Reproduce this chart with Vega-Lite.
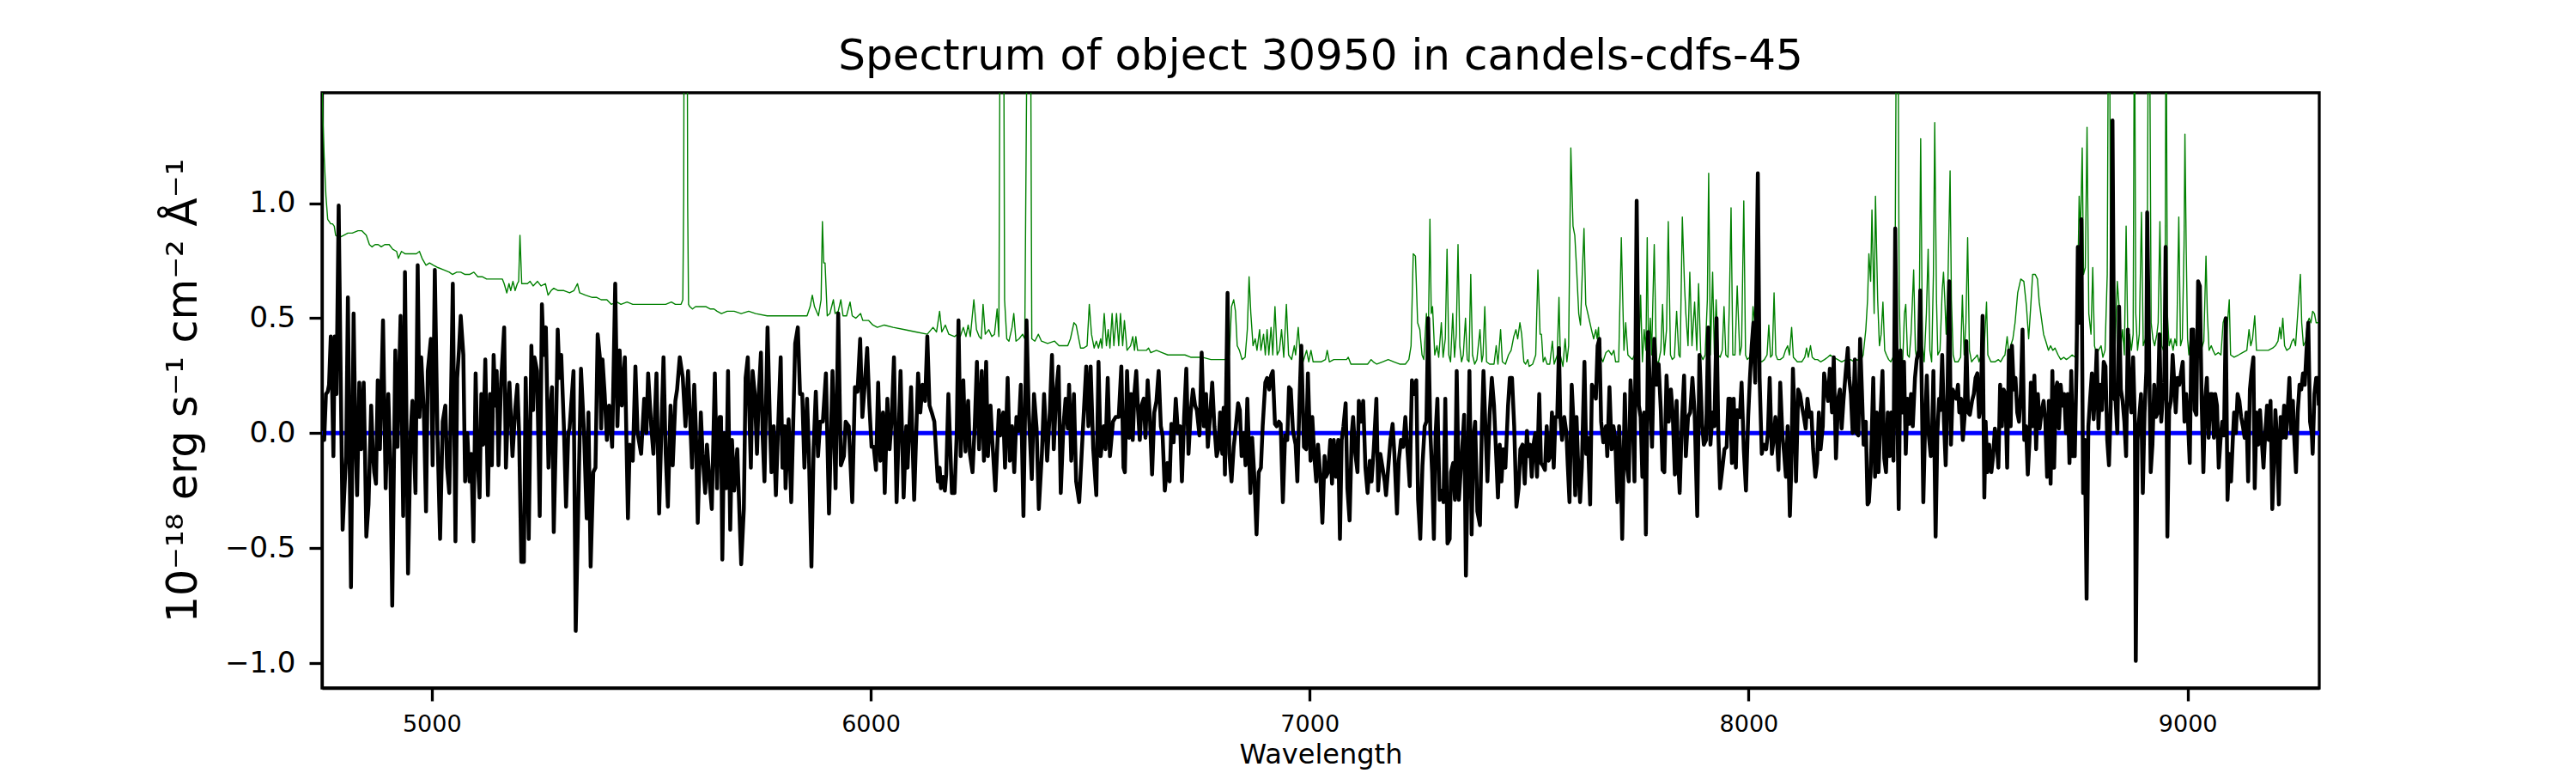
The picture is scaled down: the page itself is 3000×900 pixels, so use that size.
{
  "$schema": "https://vega.github.io/schema/vega-lite/v6.json",
  "width": 2326,
  "height": 693,
  "autosize": {"type": "none"},
  "padding": {"left": 375, "top": 108, "right": 299, "bottom": 99},
  "background": "white",
  "config": {"view": {"stroke": "black", "strokeWidth": 3.3}, "font": "DejaVu Sans"},
  "title": {"text": "Spectrum of object 30950 in candels-cdfs-45", "font": "DejaVu Sans", "fontSize": 50, "fontWeight": "normal", "color": "black", "anchor": "middle", "offset": 17},
  "datasets": {
    "zero": [{"wave": 4750, "flux": 0}, {"wave": 9300, "flux": 0}],
    "flux": [
{"wave":4750,"flux":-0.03},{"wave":4755,"flux":-0.03},{"wave":4759,"flux":0.17},{"wave":4763,"flux":0.18},{"wave":4766,"flux":0.21},{"wave":4770,"flux":0.42},{"wave":4773,"flux":0.19},{"wave":4776,"flux":-0.10},{"wave":4779,"flux":0.42},{"wave":4783,"flux":0.17},{"wave":4788,"flux":0.99},{"wave":4792,"flux":0.34},{"wave":4797,"flux":-0.42},{"wave":4802,"flux":-0.21},{"wave":4805,"flux":-0.10},{"wave":4809,"flux":0.59},{"wave":4816,"flux":-0.67},{"wave":4822,"flux":0.52},{"wave":4826,"flux":0.00},{"wave":4830,"flux":-0.27},{"wave":4835,"flux":0.22},{"wave":4839,"flux":-0.07},{"wave":4845,"flux":0.22},{"wave":4848,"flux":-0.09},{"wave":4851,"flux":-0.45},{"wave":4856,"flux":-0.31},{"wave":4862,"flux":0.12},{"wave":4866,"flux":-0.09},{"wave":4869,"flux":-0.17},{"wave":4873,"flux":-0.22},{"wave":4877,"flux":0.23},{"wave":4882,"flux":-0.07},{"wave":4889,"flux":0.49},{"wave":4895,"flux":-0.24},{"wave":4901,"flux":0.17},{"wave":4906,"flux":-0.17},{"wave":4910,"flux":-0.75},{"wave":4917,"flux":0.36},{"wave":4922,"flux":-0.06},{"wave":4925,"flux":0.19},{"wave":4929,"flux":0.51},{"wave":4935,"flux":-0.36},{"wave":4939,"flux":0.70},{"wave":4946,"flux":-0.61},{"wave":4952,"flux":0.00},{"wave":4956,"flux":0.14},{"wave":4963,"flux":-0.26},{"wave":4968,"flux":0.73},{"wave":4972,"flux":0.07},{"wave":4976,"flux":0.33},{"wave":4982,"flux":0.09},{"wave":4987,"flux":-0.34},{"wave":4991,"flux":0.27},{"wave":4998,"flux":0.41},{"wave":5002,"flux":-0.14},{"wave":5007,"flux":0.71},{"wave":5013,"flux":0.00},{"wave":5019,"flux":-0.46},{"wave":5025,"flux":0.05},{"wave":5031,"flux":0.12},{"wave":5035,"flux":-0.15},{"wave":5040,"flux":-0.26},{"wave":5043,"flux":0.05},{"wave":5048,"flux":0.65},{"wave":5054,"flux":-0.47},{"wave":5058,"flux":0.24},{"wave":5062,"flux":0.36},{"wave":5066,"flux":0.51},{"wave":5072,"flux":0.34},{"wave":5076,"flux":-0.21},{"wave":5081,"flux":0.00},{"wave":5086,"flux":-0.21},{"wave":5090,"flux":-0.09},{"wave":5095,"flux":-0.47},{"wave":5100,"flux":0.26},{"wave":5104,"flux":-0.09},{"wave":5109,"flux":-0.28},{"wave":5113,"flux":0.17},{"wave":5117,"flux":-0.05},{"wave":5122,"flux":0.32},{"wave":5128,"flux":-0.27},{"wave":5133,"flux":0.17},{"wave":5137,"flux":-0.14},{"wave":5141,"flux":0.34},{"wave":5145,"flux":0.12},{"wave":5148,"flux":0.27},{"wave":5152,"flux":-0.14},{"wave":5158,"flux":0.22},{"wave":5165,"flux":0.46},{"wave":5169,"flux":-0.15},{"wave":5173,"flux":0.07},{"wave":5177,"flux":0.22},{"wave":5184,"flux":-0.10},{"wave":5190,"flux":0.10},{"wave":5195,"flux":0.21},{"wave":5199,"flux":0.00},{"wave":5204,"flux":-0.56},{"wave":5210,"flux":-0.56},{"wave":5214,"flux":0.24},{"wave":5221,"flux":-0.46},{"wave":5227,"flux":0.38},{"wave":5231,"flux":0.10},{"wave":5234,"flux":0.33},{"wave":5240,"flux":0.27},{"wave":5246,"flux":-0.36},{"wave":5251,"flux":0.56},{"wave":5255,"flux":0.34},{"wave":5260,"flux":0.46},{"wave":5266,"flux":-0.15},{"wave":5270,"flux":0.09},{"wave":5274,"flux":0.20},{"wave":5278,"flux":-0.43},{"wave":5283,"flux":0.00},{"wave":5287,"flux":0.45},{"wave":5291,"flux":0.24},{"wave":5295,"flux":0.34},{"wave":5301,"flux":0.03},{"wave":5306,"flux":-0.32},{"wave":5311,"flux":0.00},{"wave":5314,"flux":0.02},{"wave":5323,"flux":0.27},{"wave":5328,"flux":-0.86},{"wave":5335,"flux":-0.21},{"wave":5340,"flux":0.28},{"wave":5347,"flux":0.00},{"wave":5353,"flux":-0.37},{"wave":5357,"flux":0.09},{"wave":5362,"flux":-0.58},{"wave":5368,"flux":-0.17},{"wave":5373,"flux":-0.15},{"wave":5378,"flux":0.43},{"wave":5383,"flux":0.33},{"wave":5386,"flux":0.02},{"wave":5389,"flux":0.32},{"wave":5394,"flux":0.17},{"wave":5399,"flux":-0.03},{"wave":5404,"flux":0.12},{"wave":5411,"flux":-0.06},{"wave":5418,"flux":0.65},{"wave":5423,"flux":0.03},{"wave":5428,"flux":0.36},{"wave":5433,"flux":0.12},{"wave":5440,"flux":0.33},{"wave":5447,"flux":-0.37},{"wave":5451,"flux":-0.05},{"wave":5458,"flux":-0.12},{"wave":5464,"flux":0.29},{"wave":5469,"flux":0.00},{"wave":5477,"flux":-0.09},{"wave":5484,"flux":0.15},{"wave":5489,"flux":0.00},{"wave":5493,"flux":0.26},{"wave":5500,"flux":0.03},{"wave":5505,"flux":-0.09},{"wave":5512,"flux":0.26},{"wave":5518,"flux":-0.35},{"wave":5523,"flux":0.00},{"wave":5528,"flux":0.33},{"wave":5533,"flux":-0.09},{"wave":5538,"flux":-0.32},{"wave":5544,"flux":0.12},{"wave":5549,"flux":-0.14},{"wave":5555,"flux":0.14},{"wave":5559,"flux":0.19},{"wave":5565,"flux":0.33},{"wave":5572,"flux":0.24},{"wave":5578,"flux":0.03},{"wave":5584,"flux":0.27},{"wave":5588,"flux":0.09},{"wave":5593,"flux":-0.15},{"wave":5598,"flux":0.21},{"wave":5602,"flux":0.00},{"wave":5606,"flux":-0.39},{"wave":5613,"flux":0.09},{"wave":5617,"flux":-0.09},{"wave":5623,"flux":-0.26},{"wave":5627,"flux":-0.05},{"wave":5634,"flux":-0.24},{"wave":5638,"flux":-0.33},{"wave":5645,"flux":0.26},{"wave":5650,"flux":-0.24},{"wave":5653,"flux":0.00},{"wave":5656,"flux":0.07},
{"wave":5659,"flux":0.07},{"wave":5662,"flux":-0.55},{"wave":5666,"flux":0.00},{"wave":5671,"flux":-0.24},{"wave":5675,"flux":0.27},{"wave":5680,"flux":-0.42},{"wave":5684,"flux":-0.03},{"wave":5689,"flux":-0.25},{"wave":5696,"flux":-0.07},{"wave":5705,"flux":-0.57},{"wave":5711,"flux":-0.33},{"wave":5715,"flux":0.24},{"wave":5720,"flux":0.33},{"wave":5727,"flux":-0.15},{"wave":5731,"flux":0.27},{"wave":5736,"flux":0.17},{"wave":5741,"flux":-0.09},{"wave":5745,"flux":0.17},{"wave":5750,"flux":0.35},{"wave":5754,"flux":-0.02},{"wave":5758,"flux":-0.21},{"wave":5765,"flux":0.46},{"wave":5771,"flux":0.00},{"wave":5774,"flux":-0.17},{"wave":5779,"flux":0.03},{"wave":5784,"flux":-0.27},{"wave":5789,"flux":0.02},{"wave":5795,"flux":0.33},{"wave":5799,"flux":-0.15},{"wave":5804,"flux":0.03},{"wave":5806,"flux":-0.24},{"wave":5813,"flux":0.06},{"wave":5819,"flux":-0.30},{"wave":5828,"flux":0.39},{"wave":5834,"flux":0.46},{"wave":5839,"flux":0.17},{"wave":5844,"flux":0.17},{"wave":5849,"flux":-0.15},{"wave":5855,"flux":0.15},{"wave":5859,"flux":-0.07},{"wave":5865,"flux":-0.58},{"wave":5870,"flux":-0.06},{"wave":5875,"flux":0.18},{"wave":5880,"flux":-0.10},{"wave":5885,"flux":0.05},{"wave":5891,"flux":0.05},{"wave":5898,"flux":0.26},{"wave":5905,"flux":-0.35},{"wave":5913,"flux":0.27},{"wave":5920,"flux":-0.24},{"wave":5926,"flux":0.52},{"wave":5932,"flux":-0.14},{"wave":5939,"flux":-0.10},{"wave":5943,"flux":0.05},{"wave":5950,"flux":0.03},{"wave":5958,"flux":-0.30},{"wave":5964,"flux":0.20},{"wave":5970,"flux":0.18},{"wave":5976,"flux":0.41},{"wave":5981,"flux":0.07},{"wave":5986,"flux":0.20},{"wave":5992,"flux":0.37},{"wave":5997,"flux":0.12},{"wave":6002,"flux":-0.06},{"wave":6007,"flux":-0.06},{"wave":6012,"flux":-0.16},{"wave":6017,"flux":0.22},{"wave":6022,"flux":-0.12},{"wave":6028,"flux":0.09},{"wave":6032,"flux":-0.26},{"wave":6038,"flux":0.15},{"wave":6043,"flux":-0.07},{"wave":6048,"flux":0.07},{"wave":6053,"flux":0.33},{"wave":6059,"flux":-0.30},{"wave":6068,"flux":0.27},{"wave":6075,"flux":-0.28},{"wave":6081,"flux":0.03},{"wave":6084,"flux":-0.15},{"wave":6092,"flux":0.20},{"wave":6099,"flux":-0.29},{"wave":6108,"flux":0.26},{"wave":6113,"flux":0.09},{"wave":6118,"flux":0.21},{"wave":6124,"flux":0.14},{"wave":6129,"flux":0.42},{"wave":6134,"flux":0.12},{"wave":6139,"flux":0.09},{"wave":6145,"flux":0.05},{"wave":6153,"flux":-0.21},{"wave":6157,"flux":-0.15},{"wave":6160,"flux":-0.24},{"wave":6165,"flux":-0.19},{"wave":6169,"flux":-0.25},{"wave":6172,"flux":-0.18},{"wave":6177,"flux":0.17},{"wave":6185,"flux":-0.26},{"wave":6191,"flux":-0.26},{"wave":6196,"flux":0.00},{"wave":6200,"flux":0.49},{"wave":6205,"flux":-0.10},{"wave":6211,"flux":0.23},{"wave":6216,"flux":-0.08},{"wave":6222,"flux":0.14},{"wave":6226,"flux":-0.09},{"wave":6232,"flux":-0.17},{"wave":6237,"flux":0.03},{"wave":6242,"flux":0.31},{"wave":6247,"flux":-0.07},{"wave":6253,"flux":0.27},{"wave":6258,"flux":-0.12},{"wave":6263,"flux":0.31},{"wave":6267,"flux":-0.10},{"wave":6273,"flux":0.12},{"wave":6277,"flux":-0.03},{"wave":6284,"flux":-0.25},{"wave":6292,"flux":0.10},{"wave":6295,"flux":-0.01},{"wave":6302,"flux":0.09},{"wave":6306,"flux":-0.15},{"wave":6312,"flux":0.24},{"wave":6317,"flux":-0.12},{"wave":6322,"flux":0.03},{"wave":6327,"flux":-0.17},{"wave":6332,"flux":0.07},{"wave":6337,"flux":0.01},{"wave":6342,"flux":0.21},{"wave":6348,"flux":-0.36},{"wave":6355,"flux":0.49},{"wave":6360,"flux":0.10},{"wave":6367,"flux":-0.20},{"wave":6372,"flux":0.17},{"wave":6378,"flux":0.02},{"wave":6383,"flux":-0.33},{"wave":6390,"flux":-0.09},{"wave":6395,"flux":0.17},{"wave":6402,"flux":-0.12},{"wave":6408,"flux":0.09},{"wave":6413,"flux":0.34},{"wave":6417,"flux":-0.07},{"wave":6423,"flux":0.19},{"wave":6428,"flux":0.29},{"wave":6433,"flux":-0.26},{"wave":6439,"flux":0.03},{"wave":6444,"flux":0.15},{"wave":6449,"flux":0.02},{"wave":6452,"flux":0.21},{"wave":6457,"flux":-0.12},{"wave":6463,"flux":0.17},{"wave":6468,"flux":-0.21},{"wave":6475,"flux":-0.30},{"wave":6483,"flux":0.00},{"wave":6491,"flux":0.29},{"wave":6496,"flux":0.03},{"wave":6501,"flux":0.29},{"wave":6507,"flux":-0.07},{"wave":6514,"flux":-0.27},{"wave":6519,"flux":0.31},{"wave":6524,"flux":-0.10},{"wave":6531,"flux":0.03},{"wave":6535,"flux":-0.07},{"wave":6540,"flux":0.24},{"wave":6545,"flux":-0.10},{"wave":6552,"flux":0.05},{"wave":6558,"flux":0.07},{"wave":6565,"flux":0.07},{"wave":6571,"flux":0.29},{"wave":6576,"flux":-0.15},
{"wave":6579,"flux":-0.17},{"wave":6584,"flux":0.27},{"wave":6589,"flux":-0.02},{"wave":6593,"flux":0.17},{"wave":6597,"flux":-0.03},{"wave":6601,"flux":0.18},{"wave":6605,"flux":0.27},{"wave":6609,"flux":0.10},{"wave":6613,"flux":-0.03},{"wave":6617,"flux":0.12},{"wave":6622,"flux":0.15},{"wave":6626,"flux":-0.02},{"wave":6631,"flux":0.23},{"wave":6636,"flux":0.07},{"wave":6641,"flux":-0.18},{"wave":6646,"flux":0.09},{"wave":6651,"flux":0.14},{"wave":6656,"flux":0.27},{"wave":6661,"flux":0.03},{"wave":6665,"flux":-0.01},{"wave":6670,"flux":-0.25},{"wave":6676,"flux":-0.13},{"wave":6681,"flux":-0.21},{"wave":6685,"flux":0.04},{"wave":6690,"flux":-0.04},{"wave":6695,"flux":0.15},{"wave":6700,"flux":0.00},{"wave":6705,"flux":0.03},{"wave":6709,"flux":-0.21},{"wave":6714,"flux":0.07},{"wave":6719,"flux":0.28},{"wave":6724,"flux":-0.09},{"wave":6729,"flux":0.09},{"wave":6734,"flux":0.19},{"wave":6739,"flux":0.12},{"wave":6743,"flux":0.10},{"wave":6749,"flux":-0.01},{"wave":6754,"flux":0.35},{"wave":6759,"flux":0.03},{"wave":6764,"flux":0.17},{"wave":6768,"flux":-0.06},{"wave":6773,"flux":0.07},{"wave":6778,"flux":0.22},{"wave":6783,"flux":0.03},{"wave":6788,"flux":-0.10},{"wave":6792,"flux":-0.07},{"wave":6796,"flux":0.09},{"wave":6801,"flux":-0.09},{"wave":6804,"flux":0.11},{"wave":6807,"flux":-0.18},{"wave":6813,"flux":0.61},{"wave":6817,"flux":-0.09},{"wave":6822,"flux":-0.21},{"wave":6827,"flux":-0.06},{"wave":6832,"flux":0.03},{"wave":6837,"flux":0.13},{"wave":6841,"flux":0.10},{"wave":6845,"flux":-0.10},{"wave":6850,"flux":0.00},{"wave":6854,"flux":-0.14},{"wave":6858,"flux":0.15},{"wave":6865,"flux":-0.26},{"wave":6869,"flux":-0.02},{"wave":6874,"flux":-0.19},{"wave":6879,"flux":-0.44},{"wave":6884,"flux":-0.17},{"wave":6889,"flux":-0.15},{"wave":6893,"flux":0.03},{"wave":6899,"flux":0.22},{"wave":6903,"flux":0.24},{"wave":6908,"flux":0.19},{"wave":6912,"flux":0.25},{"wave":6916,"flux":0.27},{"wave":6921,"flux":0.04},{"wave":6925,"flux":0.03},{"wave":6930,"flux":0.05},{"wave":6934,"flux":0.04},{"wave":6939,"flux":-0.30},{"wave":6944,"flux":-0.01},{"wave":6949,"flux":-0.03},{"wave":6953,"flux":0.20},{"wave":6957,"flux":0.19},{"wave":6962,"flux":0.01},{"wave":6968,"flux":-0.05},{"wave":6972,"flux":-0.21},{"wave":6977,"flux":0.15},{"wave":6981,"flux":0.38},{"wave":6987,"flux":-0.06},{"wave":6992,"flux":-0.07},{"wave":6996,"flux":0.26},{"wave":7002,"flux":-0.12},{"wave":7006,"flux":0.07},{"wave":7011,"flux":-0.11},{"wave":7015,"flux":-0.21},{"wave":7019,"flux":-0.05},{"wave":7024,"flux":-0.18},{"wave":7029,"flux":-0.39},{"wave":7034,"flux":-0.10},{"wave":7037,"flux":-0.19},{"wave":7042,"flux":-0.17},{"wave":7047,"flux":-0.03},{"wave":7051,"flux":-0.22},{"wave":7055,"flux":-0.03},{"wave":7060,"flux":-0.19},{"wave":7065,"flux":-0.03},{"wave":7069,"flux":-0.46},{"wave":7073,"flux":-0.03},{"wave":7077,"flux":0.03},{"wave":7082,"flux":0.13},{"wave":7086,"flux":-0.24},{"wave":7091,"flux":-0.38},{"wave":7096,"flux":0.00},{"wave":7099,"flux":0.07},{"wave":7104,"flux":-0.09},{"wave":7109,"flux":-0.17},{"wave":7112,"flux":0.14},{"wave":7117,"flux":0.05},{"wave":7122,"flux":0.14},{"wave":7127,"flux":-0.15},{"wave":7132,"flux":-0.26},{"wave":7137,"flux":-0.12},{"wave":7141,"flux":-0.21},{"wave":7146,"flux":-0.07},{"wave":7152,"flux":0.15},{"wave":7156,"flux":-0.25},{"wave":7161,"flux":-0.09},{"wave":7166,"flux":-0.15},{"wave":7171,"flux":-0.21},{"wave":7174,"flux":-0.27},{"wave":7179,"flux":-0.15},{"wave":7184,"flux":-0.03},{"wave":7189,"flux":0.04},{"wave":7193,"flux":-0.09},{"wave":7199,"flux":-0.35},{"wave":7203,"flux":-0.12},{"wave":7208,"flux":-0.03},{"wave":7213,"flux":-0.06},{"wave":7218,"flux":0.07},{"wave":7223,"flux":-0.08},{"wave":7228,"flux":-0.23},{"wave":7233,"flux":0.23},{"wave":7238,"flux":0.17},{"wave":7243,"flux":0.23},{"wave":7247,"flux":-0.29},{"wave":7252,"flux":-0.46},{"wave":7257,"flux":-0.14},{"wave":7262,"flux":0.03},{"wave":7266,"flux":0.05},{"wave":7270,"flux":0.50},{"wave":7275,"flux":0.00},{"wave":7279,"flux":-0.17},{"wave":7283,"flux":-0.46},{"wave":7287,"flux":0.00},{"wave":7291,"flux":0.15},{"wave":7296,"flux":-0.29},{"wave":7300,"flux":-0.25},{"wave":7305,"flux":-0.30},{"wave":7309,"flux":0.15},{"wave":7314,"flux":-0.48},{"wave":7319,"flux":-0.46},{"wave":7322,"flux":-0.17},{"wave":7327,"flux":-0.13},{"wave":7331,"flux":-0.29},{"wave":7335,"flux":0.27},{"wave":7340,"flux":-0.29},{"wave":7345,"flux":-0.14},{"wave":7349,"flux":-0.02},{"wave":7352,"flux":0.08},{"wave":7356,"flux":-0.62},{"wave":7360,"flux":-0.17},{"wave":7364,"flux":0.27},{"wave":7369,"flux":-0.44},{"wave":7373,"flux":-0.02},{"wave":7377,"flux":0.05},{"wave":7382,"flux":-0.34},{"wave":7388,"flux":-0.40},{"wave":7392,"flux":0.00},{"wave":7396,"flux":0.27},{"wave":7401,"flux":0.00},{"wave":7405,"flux":-0.21},{"wave":7410,"flux":0.08},{"wave":7415,"flux":0.24},{"wave":7420,"flux":0.12},{"wave":7425,"flux":-0.10},{"wave":7429,"flux":-0.28},{"wave":7433,"flux":-0.05},{"wave":7437,"flux":-0.21},{"wave":7441,"flux":-0.07},{"wave":7446,"flux":-0.15},{"wave":7452,"flux":0.12},{"wave":7456,"flux":0.24},{"wave":7461,"flux":0.24},{"wave":7466,"flux":0.03},{"wave":7471,"flux":-0.32},{"wave":7476,"flux":-0.24},{"wave":7480,"flux":-0.07},{"wave":7485,"flux":-0.05},{"wave":7490,"flux":-0.22},{"wave":7495,"flux":0.01},
{"wave":7498,"flux":-0.10},{"wave":7502,"flux":-0.05},{"wave":7506,"flux":-0.19},{"wave":7510,"flux":-0.05},{"wave":7514,"flux":0.00},{"wave":7518,"flux":-0.19},{"wave":7523,"flux":0.17},{"wave":7527,"flux":-0.13},{"wave":7531,"flux":-0.14},{"wave":7536,"flux":-0.16},{"wave":7540,"flux":0.03},{"wave":7544,"flux":-0.12},{"wave":7548,"flux":-0.10},{"wave":7552,"flux":0.09},{"wave":7556,"flux":-0.15},{"wave":7560,"flux":0.07},{"wave":7564,"flux":0.07},{"wave":7568,"flux":0.37},{"wave":7571,"flux":0.07},{"wave":7575,"flux":-0.03},{"wave":7580,"flux":0.07},{"wave":7585,"flux":0.00},{"wave":7588,"flux":-0.14},{"wave":7592,"flux":-0.30},{"wave":7597,"flux":0.21},{"wave":7601,"flux":0.05},{"wave":7605,"flux":-0.27},{"wave":7608,"flux":0.07},{"wave":7611,"flux":-0.10},{"wave":7616,"flux":-0.30},{"wave":7620,"flux":-0.15},{"wave":7626,"flux":0.31},{"wave":7630,"flux":-0.09},{"wave":7634,"flux":-0.02},{"wave":7639,"flux":-0.31},{"wave":7643,"flux":0.21},{"wave":7648,"flux":0.19},{"wave":7652,"flux":0.15},{"wave":7656,"flux":0.38},{"wave":7660,"flux":0.41},{"wave":7664,"flux":0.05},{"wave":7669,"flux":-0.04},{"wave":7675,"flux":0.03},{"wave":7678,"flux":-0.10},{"wave":7683,"flux":0.20},{"wave":7688,"flux":-0.07},{"wave":7692,"flux":0.03},{"wave":7696,"flux":-0.02},{"wave":7701,"flux":-0.30},{"wave":7705,"flux":0.03},{"wave":7709,"flux":-0.17},{"wave":7712,"flux":-0.46},{"wave":7718,"flux":0.17},{"wave":7722,"flux":-0.13},{"wave":7727,"flux":-0.21},{"wave":7731,"flux":0.23},{"wave":7736,"flux":0.07},{"wave":7740,"flux":-0.21},{"wave":7745,"flux":1.01},{"wave":7750,"flux":0.12},{"wave":7754,"flux":0.07},{"wave":7758,"flux":-0.19},{"wave":7762,"flux":0.09},{"wave":7766,"flux":-0.44},{"wave":7771,"flux":0.44},{"wave":7776,"flux":0.14},{"wave":7780,"flux":-0.06},{"wave":7785,"flux":0.41},{"wave":7790,"flux":0.21},{"wave":7795,"flux":0.30},{"wave":7800,"flux":0.10},{"wave":7804,"flux":-0.16},{"wave":7808,"flux":-0.17},{"wave":7813,"flux":0.25},{"wave":7818,"flux":0.05},{"wave":7823,"flux":0.19},{"wave":7827,"flux":0.09},{"wave":7832,"flux":-0.18},{"wave":7836,"flux":0.14},{"wave":7839,"flux":-0.10},{"wave":7843,"flux":-0.26},{"wave":7848,"flux":0.05},{"wave":7853,"flux":0.25},{"wave":7857,"flux":-0.10},{"wave":7862,"flux":0.07},{"wave":7867,"flux":0.09},{"wave":7872,"flux":0.24},{"wave":7877,"flux":0.09},{"wave":7883,"flux":-0.36},{"wave":7888,"flux":0.34},{"wave":7894,"flux":0.04},{"wave":7898,"flux":-0.05},{"wave":7903,"flux":-0.03},{"wave":7908,"flux":0.46},{"wave":7913,"flux":-0.05},{"wave":7918,"flux":0.09},{"wave":7922,"flux":0.03},{"wave":7927,"flux":0.50},{"wave":7931,"flux":0.00},{"wave":7935,"flux":-0.24},{"wave":7941,"flux":-0.14},{"wave":7945,"flux":-0.07},{"wave":7950,"flux":-0.06},{"wave":7954,"flux":0.15},{"wave":7958,"flux":0.15},{"wave":7962,"flux":-0.13},{"wave":7966,"flux":0.15},{"wave":7971,"flux":-0.15},{"wave":7974,"flux":0.10},{"wave":7980,"flux":0.07},{"wave":7984,"flux":0.22},{"wave":7989,"flux":-0.07},{"wave":7994,"flux":-0.25},{"wave":7999,"flux":0.07},{"wave":8003,"flux":0.24},{"wave":8007,"flux":0.38},{"wave":8011,"flux":0.48},{"wave":8015,"flux":0.22},{"wave":8021,"flux":1.13},{"wave":8025,"flux":0.24},{"wave":8030,"flux":-0.09},{"wave":8034,"flux":-0.05},{"wave":8040,"flux":-0.07},{"wave":8044,"flux":0.00},{"wave":8048,"flux":0.24},{"wave":8053,"flux":-0.09},{"wave":8057,"flux":-0.03},{"wave":8061,"flux":0.07},{"wave":8064,"flux":0.00},{"wave":8068,"flux":-0.16},{"wave":8072,"flux":0.22},{"wave":8077,"flux":-0.01},{"wave":8081,"flux":-0.09},{"wave":8085,"flux":-0.19},{"wave":8089,"flux":0.03},{"wave":8094,"flux":-0.36},{"wave":8097,"flux":-0.17},{"wave":8101,"flux":0.28},{"wave":8105,"flux":0.05},{"wave":8108,"flux":-0.21},{"wave":8113,"flux":0.19},{"wave":8117,"flux":0.17},{"wave":8121,"flux":0.12},{"wave":8126,"flux":0.07},{"wave":8130,"flux":0.02},{"wave":8134,"flux":0.15},{"wave":8139,"flux":0.07},{"wave":8143,"flux":0.09},{"wave":8147,"flux":-0.07},{"wave":8152,"flux":-0.19},{"wave":8156,"flux":-0.13},{"wave":8160,"flux":0.09},{"wave":8164,"flux":-0.07},{"wave":8169,"flux":0.03},{"wave":8172,"flux":0.26},{"wave":8177,"flux":0.19},{"wave":8181,"flux":0.14},{"wave":8185,"flux":0.28},{"wave":8190,"flux":0.09},{"wave":8194,"flux":0.33},{"wave":8199,"flux":-0.11},{"wave":8204,"flux":0.15},{"wave":8208,"flux":0.19},{"wave":8212,"flux":0.02},{"wave":8216,"flux":0.14},{"wave":8221,"flux":0.26},{"wave":8226,"flux":0.37},{"wave":8229,"flux":0.24},{"wave":8233,"flux":0.17},{"wave":8237,"flux":0.00},{"wave":8242,"flux":0.32},{"wave":8246,"flux":0.00},{"wave":8250,"flux":-0.01},{"wave":8254,"flux":0.41},{"wave":8258,"flux":0.19},{"wave":8262,"flux":-0.05},{"wave":8267,"flux":0.05},{"wave":8271,"flux":-0.31},{"wave":8274,"flux":-0.30},{"wave":8278,"flux":-0.17},{"wave":8284,"flux":0.24},{"wave":8288,"flux":-0.19},{"wave":8292,"flux":0.09},{"wave":8296,"flux":-0.17},{"wave":8301,"flux":0.10},{"wave":8305,"flux":0.27},{"wave":8309,"flux":-0.11},{"wave":8313,"flux":-0.17},{"wave":8317,"flux":0.09},{"wave":8321,"flux":-0.10},{"wave":8325,"flux":0.09},{"wave":8330,"flux":-0.12},{"wave":8334,"flux":0.89},{"wave":8338,"flux":0.21},{"wave":8342,"flux":-0.33},{"wave":8346,"flux":0.36},{"wave":8350,"flux":0.09},{"wave":8354,"flux":0.31},{"wave":8358,"flux":-0.09},{"wave":8362,"flux":0.15},{"wave":8366,"flux":0.04},{"wave":8370,"flux":0.17},{"wave":8374,"flux":0.03},{"wave":8379,"flux":0.24},{"wave":8383,"flux":0.32},{"wave":8388,"flux":0.36},{"wave":8391,"flux":0.62},{"wave":8395,"flux":0.12},{"wave":8398,"flux":-0.30},{"wave":8402,"flux":0.03},{"wave":8406,"flux":0.25},{"wave":8410,"flux":0.00},{"wave":8415,"flux":-0.10},
{"wave":8418,"flux":0.00},{"wave":8421,"flux":0.27},{"wave":8426,"flux":-0.45},{"wave":8430,"flux":0.00},{"wave":8434,"flux":0.15},{"wave":8437,"flux":0.10},{"wave":8441,"flux":0.34},{"wave":8445,"flux":0.05},{"wave":8449,"flux":-0.14},{"wave":8453,"flux":0.17},{"wave":8457,"flux":0.66},{"wave":8461,"flux":-0.05},{"wave":8465,"flux":0.19},{"wave":8469,"flux":0.17},{"wave":8473,"flux":0.15},{"wave":8477,"flux":0.21},{"wave":8480,"flux":0.09},{"wave":8484,"flux":0.15},{"wave":8488,"flux":-0.03},{"wave":8492,"flux":0.07},{"wave":8496,"flux":0.40},{"wave":8500,"flux":0.09},{"wave":8504,"flux":0.08},{"wave":8509,"flux":0.14},{"wave":8513,"flux":0.17},{"wave":8517,"flux":0.24},{"wave":8521,"flux":0.26},{"wave":8525,"flux":0.07},{"wave":8529,"flux":0.12},{"wave":8533,"flux":0.51},{"wave":8537,"flux":-0.28},{"wave":8540,"flux":0.05},{"wave":8544,"flux":-0.17},{"wave":8548,"flux":-0.05},{"wave":8553,"flux":-0.17},{"wave":8557,"flux":-0.10},{"wave":8561,"flux":0.02},{"wave":8565,"flux":-0.03},{"wave":8569,"flux":-0.15},{"wave":8573,"flux":0.21},{"wave":8577,"flux":0.03},{"wave":8581,"flux":0.19},{"wave":8585,"flux":0.17},{"wave":8589,"flux":-0.15},{"wave":8593,"flux":0.36},{"wave":8597,"flux":0.03},{"wave":8600,"flux":0.38},{"wave":8604,"flux":0.19},{"wave":8608,"flux":0.24},{"wave":8612,"flux":0.09},{"wave":8616,"flux":0.05},{"wave":8620,"flux":0.17},{"wave":8624,"flux":0.45},{"wave":8628,"flux":-0.03},{"wave":8632,"flux":0.03},{"wave":8636,"flux":-0.18},{"wave":8640,"flux":-0.03},{"wave":8643,"flux":0.22},{"wave":8647,"flux":0.03},{"wave":8651,"flux":0.25},{"wave":8655,"flux":-0.07},{"wave":8659,"flux":0.17},{"wave":8663,"flux":0.02},{"wave":8667,"flux":0.09},{"wave":8672,"flux":0.14},{"wave":8676,"flux":0.05},{"wave":8680,"flux":-0.19},{"wave":8684,"flux":0.14},{"wave":8688,"flux":-0.22},{"wave":8692,"flux":0.27},{"wave":8696,"flux":-0.15},{"wave":8700,"flux":0.19},{"wave":8703,"flux":0.22},{"wave":8707,"flux":0.02},{"wave":8711,"flux":0.21},{"wave":8715,"flux":0.12},{"wave":8719,"flux":0.17},{"wave":8723,"flux":0.00},{"wave":8727,"flux":0.17},{"wave":8731,"flux":-0.13},{"wave":8735,"flux":0.27},{"wave":8739,"flux":-0.10},{"wave":8743,"flux":-0.10},{"wave":8747,"flux":0.29},{"wave":8750,"flux":0.81},{"wave":8754,"flux":0.48},{"wave":8758,"flux":0.93},{"wave":8762,"flux":-0.26},{"wave":8766,"flux":-0.03},{"wave":8770,"flux":-0.72},{"wave":8774,"flux":0.03},{"wave":8778,"flux":0.15},{"wave":8782,"flux":0.26},{"wave":8786,"flux":0.06},{"wave":8790,"flux":0.21},{"wave":8793,"flux":0.36},{"wave":8797,"flux":0.02},{"wave":8801,"flux":0.21},{"wave":8805,"flux":0.10},{"wave":8809,"flux":0.31},{"wave":8813,"flux":0.29},{"wave":8817,"flux":-0.03},{"wave":8821,"flux":-0.14},{"wave":8825,"flux":0.12},{"wave":8829,"flux":1.36},{"wave":8833,"flux":0.15},{"wave":8836,"flux":0.14},{"wave":8840,"flux":0.00},{"wave":8844,"flux":0.55},{"wave":8848,"flux":0.19},{"wave":8852,"flux":0.14},{"wave":8856,"flux":0.05},{"wave":8860,"flux":-0.10},{"wave":8864,"flux":0.45},{"wave":8868,"flux":0.17},{"wave":8872,"flux":0.09},{"wave":8876,"flux":0.33},{"wave":8880,"flux":0.05},{"wave":8882,"flux":-0.99},{"wave":8886,"flux":-0.03},{"wave":8890,"flux":0.07},{"wave":8894,"flux":0.17},{"wave":8898,"flux":-0.26},{"wave":8902,"flux":0.09},{"wave":8906,"flux":0.27},{"wave":8908,"flux":0.96},{"wave":8912,"flux":0.41},{"wave":8916,"flux":-0.17},{"wave":8920,"flux":-0.05},{"wave":8924,"flux":0.21},{"wave":8928,"flux":0.07},{"wave":8932,"flux":0.09},{"wave":8936,"flux":0.43},{"wave":8940,"flux":0.05},{"wave":8943,"flux":0.14},{"wave":8947,"flux":0.22},{"wave":8950,"flux":0.81},{"wave":8954,"flux":-0.45},{"wave":8958,"flux":0.10},{"wave":8962,"flux":0.14},{"wave":8966,"flux":0.34},{"wave":8970,"flux":0.21},{"wave":8973,"flux":0.09},{"wave":8977,"flux":0.24},{"wave":8981,"flux":0.21},{"wave":8985,"flux":0.26},{"wave":8989,"flux":0.31},{"wave":8993,"flux":0.05},{"wave":8997,"flux":0.17},{"wave":9001,"flux":0.05},{"wave":9005,"flux":-0.13},{"wave":9009,"flux":0.45},{"wave":9013,"flux":0.45},{"wave":9016,"flux":0.10},{"wave":9020,"flux":0.08},{"wave":9024,"flux":0.66},{"wave":9028,"flux":0.64},{"wave":9032,"flux":0.15},{"wave":9036,"flux":-0.17},{"wave":9040,"flux":0.14},{"wave":9044,"flux":0.24},{"wave":9048,"flux":-0.02},{"wave":9052,"flux":0.17},{"wave":9056,"flux":0.17},{"wave":9060,"flux":-0.02},{"wave":9063,"flux":0.17},{"wave":9067,"flux":0.12},{"wave":9071,"flux":-0.15},{"wave":9075,"flux":-0.03},{"wave":9079,"flux":0.05},{"wave":9083,"flux":-0.01},{"wave":9087,"flux":0.50},{"wave":9091,"flux":-0.29},{"wave":9095,"flux":-0.09},{"wave":9099,"flux":-0.21},{"wave":9103,"flux":-0.03},{"wave":9106,"flux":0.09},{"wave":9110,"flux":0.00},{"wave":9114,"flux":0.17},{"wave":9118,"flux":0.14},{"wave":9122,"flux":0.07},{"wave":9126,"flux":0.03},{"wave":9130,"flux":-0.02},{"wave":9134,"flux":0.09},{"wave":9138,"flux":-0.21},{"wave":9142,"flux":0.19},{"wave":9146,"flux":0.27},{"wave":9150,"flux":0.33},{"wave":9153,"flux":-0.24},{"wave":9157,"flux":0.09},{"wave":9161,"flux":-0.05},{"wave":9165,"flux":0.10},{"wave":9169,"flux":-0.03},{"wave":9173,"flux":-0.15},{"wave":9177,"flux":0.00},{"wave":9181,"flux":0.12},{"wave":9185,"flux":-0.03},{"wave":9189,"flux":0.14},{"wave":9193,"flux":-0.33},{"wave":9196,"flux":-0.17},{"wave":9200,"flux":0.10},{"wave":9204,"flux":-0.03},{"wave":9208,"flux":-0.31},{"wave":9212,"flux":0.07},{"wave":9216,"flux":-0.02},{"wave":9220,"flux":0.12},{"wave":9224,"flux":-0.02},{"wave":9228,"flux":0.10},{"wave":9232,"flux":0.24},{"wave":9236,"flux":0.00},{"wave":9240,"flux":0.14},{"wave":9243,"flux":-0.02},{"wave":9247,"flux":-0.17},{"wave":9251,"flux":0.09},{"wave":9255,"flux":0.21},{"wave":9259,"flux":0.19},{"wave":9263,"flux":0.26},{"wave":9267,"flux":0.21},{"wave":9271,"flux":0.36},{"wave":9275,"flux":0.48},{"wave":9279,"flux":0.05},{"wave":9283,"flux":0.00},{"wave":9285,"flux":-0.09},{"wave":9289,"flux":0.17},{"wave":9293,"flux":0.24},{"wave":9297,"flux":0.24},{"wave":9299,"flux":0.12}
    ],
    "model": [
{"wave":4749,"flux":1.60},{"wave":4752,"flux":1.37},{"wave":4755,"flux":1.20},{"wave":4759,"flux":1.03},{"wave":4763,"flux":0.93},{"wave":4770,"flux":0.91},{"wave":4774,"flux":0.91},{"wave":4778,"flux":0.90},{"wave":4781,"flux":0.86},{"wave":4789,"flux":0.85},{"wave":4799,"flux":0.86},{"wave":4809,"flux":0.87},{"wave":4819,"flux":0.87},{"wave":4832,"flux":0.88},{"wave":4841,"flux":0.88},{"wave":4851,"flux":0.86},{"wave":4858,"flux":0.82},{"wave":4864,"flux":0.81},{"wave":4871,"flux":0.82},{"wave":4878,"flux":0.82},{"wave":4885,"flux":0.81},{"wave":4893,"flux":0.82},{"wave":4903,"flux":0.82},{"wave":4911,"flux":0.80},{"wave":4920,"flux":0.79},{"wave":4924,"flux":0.76},{"wave":4931,"flux":0.79},{"wave":4939,"flux":0.78},{"wave":4949,"flux":0.78},{"wave":4955,"flux":0.78},{"wave":4965,"flux":0.78},{"wave":4972,"flux":0.79},{"wave":4978,"flux":0.76},{"wave":4987,"flux":0.73},{"wave":4995,"flux":0.74},{"wave":5004,"flux":0.73},{"wave":5014,"flux":0.72},{"wave":5027,"flux":0.71},{"wave":5040,"flux":0.70},{"wave":5047,"flux":0.69},{"wave":5057,"flux":0.70},{"wave":5066,"flux":0.70},{"wave":5076,"flux":0.69},{"wave":5086,"flux":0.69},{"wave":5096,"flux":0.70},{"wave":5105,"flux":0.68},{"wave":5115,"flux":0.68},{"wave":5125,"flux":0.67},{"wave":5138,"flux":0.67},{"wave":5151,"flux":0.67},{"wave":5161,"flux":0.67},{"wave":5165,"flux":0.65},{"wave":5171,"flux":0.61},{"wave":5176,"flux":0.65},{"wave":5180,"flux":0.62},{"wave":5185,"flux":0.66},{"wave":5190,"flux":0.62},{"wave":5195,"flux":0.65},{"wave":5198,"flux":0.66},{"wave":5201,"flux":0.86},{"wave":5205,"flux":0.65},{"wave":5211,"flux":0.65},{"wave":5218,"flux":0.65},{"wave":5224,"flux":0.66},{"wave":5231,"flux":0.64},{"wave":5241,"flux":0.66},{"wave":5249,"flux":0.64},{"wave":5259,"flux":0.65},{"wave":5265,"flux":0.60},{"wave":5272,"flux":0.62},{"wave":5278,"flux":0.63},{"wave":5288,"flux":0.62},{"wave":5301,"flux":0.62},{"wave":5314,"flux":0.61},{"wave":5324,"flux":0.62},{"wave":5332,"flux":0.65},{"wave":5337,"flux":0.61},{"wave":5350,"flux":0.60},{"wave":5366,"flux":0.59},{"wave":5376,"flux":0.59},{"wave":5386,"flux":0.58},{"wave":5399,"flux":0.58},{"wave":5409,"flux":0.56},{"wave":5422,"flux":0.57},{"wave":5431,"flux":0.56},{"wave":5445,"flux":0.57},{"wave":5458,"flux":0.56},{"wave":5477,"flux":0.56},{"wave":5497,"flux":0.56},{"wave":5516,"flux":0.56},{"wave":5533,"flux":0.56},{"wave":5546,"flux":0.57},{"wave":5555,"flux":0.56},{"wave":5568,"flux":0.56},{"wave":5572,"flux":0.58},{"wave":5574,"flux":1.03},{"wave":5576,"flux":2.80},{"wave":5581,"flux":2.80},{"wave":5583,"flux":1.00},{"wave":5585,"flux":0.56},{"wave":5588,"flux":0.55},{"wave":5594,"flux":0.54},{"wave":5601,"flux":0.55},{"wave":5608,"flux":0.55},{"wave":5617,"flux":0.55},{"wave":5625,"flux":0.55},{"wave":5634,"flux":0.54},{"wave":5643,"flux":0.54},{"wave":5650,"flux":0.53},{"wave":5660,"flux":0.52},
{"wave":5673,"flux":0.53},{"wave":5689,"flux":0.53},{"wave":5705,"flux":0.52},{"wave":5722,"flux":0.53},{"wave":5738,"flux":0.52},{"wave":5764,"flux":0.51},{"wave":5784,"flux":0.51},{"wave":5790,"flux":0.51},{"wave":5823,"flux":0.51},{"wave":5855,"flux":0.51},{"wave":5862,"flux":0.55},{"wave":5867,"flux":0.60},{"wave":5872,"flux":0.55},{"wave":5881,"flux":0.51},{"wave":5887,"flux":0.58},{"wave":5890,"flux":0.92},{"wave":5893,"flux":0.74},{"wave":5896,"flux":0.74},{"wave":5901,"flux":0.51},{"wave":5907,"flux":0.52},{"wave":5915,"flux":0.58},{"wave":5919,"flux":0.52},{"wave":5926,"flux":0.53},{"wave":5932,"flux":0.58},{"wave":5937,"flux":0.51},{"wave":5945,"flux":0.51},{"wave":5953,"flux":0.57},{"wave":5958,"flux":0.51},{"wave":5966,"flux":0.50},{"wave":5977,"flux":0.52},{"wave":5982,"flux":0.49},{"wave":5995,"flux":0.49},{"wave":6005,"flux":0.47},{"wave":6015,"flux":0.46},{"wave":6031,"flux":0.47},{"wave":6051,"flux":0.46},{"wave":6077,"flux":0.45},{"wave":6103,"flux":0.44},{"wave":6129,"flux":0.43},{"wave":6142,"flux":0.46},{"wave":6150,"flux":0.44},{"wave":6157,"flux":0.53},{"wave":6162,"flux":0.44},{"wave":6170,"flux":0.47},{"wave":6178,"flux":0.43},{"wave":6191,"flux":0.42},{"wave":6198,"flux":0.43},{"wave":6204,"flux":0.42},{"wave":6211,"flux":0.46},{"wave":6217,"flux":0.42},{"wave":6222,"flux":0.47},{"wave":6227,"flux":0.42},{"wave":6235,"flux":0.58},{"wave":6241,"flux":0.45},{"wave":6247,"flux":0.42},{"wave":6252,"flux":0.41},{"wave":6256,"flux":0.56},{"wave":6261,"flux":0.43},{"wave":6269,"flux":0.45},{"wave":6276,"flux":0.42},{"wave":6282,"flux":0.43},{"wave":6288,"flux":0.54},{"wave":6292,"flux":0.42},{"wave":6296,"flux":2.50},{"wave":6302,"flux":2.50},{"wave":6305,"flux":0.58},{"wave":6310,"flux":0.41},{"wave":6315,"flux":0.40},{"wave":6322,"flux":0.46},{"wave":6326,"flux":0.52},{"wave":6331,"flux":0.40},{"wave":6338,"flux":0.41},{"wave":6346,"flux":0.43},{"wave":6351,"flux":0.41},{"wave":6359,"flux":2.50},{"wave":6363,"flux":2.50},{"wave":6367,"flux":0.41},{"wave":6374,"flux":0.40},{"wave":6382,"flux":0.43},{"wave":6389,"flux":0.40},{"wave":6403,"flux":0.39},{"wave":6419,"flux":0.40},{"wave":6429,"flux":0.38},{"wave":6449,"flux":0.38},{"wave":6455,"flux":0.41},{"wave":6463,"flux":0.48},{"wave":6468,"flux":0.47},{"wave":6478,"flux":0.37},{"wave":6485,"flux":0.37},{"wave":6493,"flux":0.38},{"wave":6498,"flux":0.56},{"wave":6503,"flux":0.43},{"wave":6509,"flux":0.37},{"wave":6514,"flux":0.40},{"wave":6519,"flux":0.37},{"wave":6524,"flux":0.41},{"wave":6527,"flux":0.37},{"wave":6532,"flux":0.52},{"wave":6537,"flux":0.38},{"wave":6541,"flux":0.45},{"wave":6545,"flux":0.37},{"wave":6550,"flux":0.52},{"wave":6554,"flux":0.38},{"wave":6560,"flux":0.52},{"wave":6565,"flux":0.38},{"wave":6569,"flux":0.52},{"wave":6574,"flux":0.38},{"wave":6578,"flux":0.49},
{"wave":6584,"flux":0.36},{"wave":6592,"flux":0.38},{"wave":6597,"flux":0.42},{"wave":6601,"flux":0.36},{"wave":6604,"flux":0.42},{"wave":6608,"flux":0.36},{"wave":6618,"flux":0.36},{"wave":6628,"flux":0.36},{"wave":6633,"flux":0.37},{"wave":6638,"flux":0.35},{"wave":6651,"flux":0.36},{"wave":6664,"flux":0.35},{"wave":6677,"flux":0.34},{"wave":6690,"flux":0.34},{"wave":6703,"flux":0.34},{"wave":6716,"flux":0.34},{"wave":6729,"flux":0.33},{"wave":6742,"flux":0.33},{"wave":6755,"flux":0.33},{"wave":6775,"flux":0.32},{"wave":6794,"flux":0.32},{"wave":6807,"flux":0.32},{"wave":6817,"flux":0.34},{"wave":6822,"flux":0.55},{"wave":6827,"flux":0.58},{"wave":6831,"flux":0.53},{"wave":6835,"flux":0.38},{"wave":6840,"flux":0.36},{"wave":6846,"flux":0.32},{"wave":6853,"flux":0.33},{"wave":6858,"flux":0.45},{"wave":6862,"flux":0.68},{"wave":6866,"flux":0.52},{"wave":6871,"flux":0.38},{"wave":6876,"flux":0.41},{"wave":6880,"flux":0.36},{"wave":6886,"flux":0.45},{"wave":6889,"flux":0.36},{"wave":6895,"flux":0.43},{"wave":6899,"flux":0.34},{"wave":6903,"flux":0.45},{"wave":6907,"flux":0.34},{"wave":6912,"flux":0.46},{"wave":6916,"flux":0.34},{"wave":6921,"flux":0.55},{"wave":6926,"flux":0.34},{"wave":6931,"flux":0.36},{"wave":6936,"flux":0.45},{"wave":6941,"flux":0.33},{"wave":6947,"flux":0.56},{"wave":6952,"flux":0.34},{"wave":6959,"flux":0.32},{"wave":6965,"flux":0.38},{"wave":6968,"flux":0.34},{"wave":6974,"flux":0.46},{"wave":6979,"flux":0.32},{"wave":6985,"flux":0.31},{"wave":6993,"flux":0.36},{"wave":6998,"flux":0.31},{"wave":7003,"flux":0.36},{"wave":7008,"flux":0.31},{"wave":7016,"flux":0.31},{"wave":7026,"flux":0.31},{"wave":7036,"flux":0.32},{"wave":7040,"flux":0.36},{"wave":7045,"flux":0.31},{"wave":7055,"flux":0.32},{"wave":7065,"flux":0.32},{"wave":7075,"flux":0.32},{"wave":7084,"flux":0.32},{"wave":7088,"flux":0.33},{"wave":7094,"flux":0.30},{"wave":7107,"flux":0.30},{"wave":7120,"flux":0.30},{"wave":7132,"flux":0.30},{"wave":7140,"flux":0.32},{"wave":7145,"flux":0.31},{"wave":7153,"flux":0.30},{"wave":7166,"flux":0.31},{"wave":7179,"flux":0.32},{"wave":7192,"flux":0.31},{"wave":7205,"flux":0.30},{"wave":7218,"flux":0.30},{"wave":7226,"flux":0.32},{"wave":7231,"flux":0.38},{"wave":7236,"flux":0.78},{"wave":7241,"flux":0.77},{"wave":7246,"flux":0.48},{"wave":7251,"flux":0.45},{"wave":7256,"flux":0.34},{"wave":7260,"flux":0.32},{"wave":7266,"flux":0.52},{"wave":7270,"flux":0.38},{"wave":7274,"flux":0.93},{"wave":7277,"flux":0.52},{"wave":7280,"flux":0.55},{"wave":7285,"flux":0.34},{"wave":7290,"flux":0.38},{"wave":7294,"flux":0.33},{"wave":7300,"flux":0.48},{"wave":7304,"flux":0.33},{"wave":7309,"flux":0.41},{"wave":7313,"flux":0.80},{"wave":7317,"flux":0.34},{"wave":7321,"flux":0.31},{"wave":7326,"flux":0.52},{"wave":7330,"flux":0.33},{"wave":7334,"flux":0.43},{"wave":7338,"flux":0.82},{"wave":7342,"flux":0.38},{"wave":7346,"flux":0.31},{"wave":7350,"flux":0.34},{"wave":7355,"flux":0.50},{"wave":7359,"flux":0.32},{"wave":7363,"flux":0.31},{"wave":7367,"flux":0.69},{"wave":7371,"flux":0.34},{"wave":7376,"flux":0.30},{"wave":7381,"flux":0.32},{"wave":7388,"flux":0.45},{"wave":7392,"flux":0.31},{"wave":7395,"flux":0.34},{"wave":7399,"flux":0.55},{"wave":7403,"flux":0.31},{"wave":7410,"flux":0.30},{"wave":7420,"flux":0.30},{"wave":7425,"flux":0.38},{"wave":7429,"flux":0.30},{"wave":7435,"flux":0.45},{"wave":7439,"flux":0.31},{"wave":7446,"flux":0.30},{"wave":7453,"flux":0.34},{"wave":7459,"flux":0.36},{"wave":7465,"flux":0.42},{"wave":7470,"flux":0.45},{"wave":7474,"flux":0.41},{"wave":7479,"flux":0.48},{"wave":7483,"flux":0.43},{"wave":7488,"flux":0.31},{"wave":7492,"flux":0.30},{"wave":7497,"flux":0.32},
{"wave":7500,"flux":0.29},{"wave":7508,"flux":0.30},{"wave":7515,"flux":0.34},{"wave":7520,"flux":0.71},{"wave":7525,"flux":0.43},{"wave":7528,"flux":0.43},{"wave":7532,"flux":0.31},{"wave":7536,"flux":0.33},{"wave":7541,"flux":0.30},{"wave":7547,"flux":0.30},{"wave":7553,"flux":0.40},{"wave":7557,"flux":0.30},{"wave":7564,"flux":0.34},{"wave":7568,"flux":0.59},{"wave":7571,"flux":0.34},{"wave":7577,"flux":0.29},{"wave":7582,"flux":0.41},{"wave":7586,"flux":0.31},{"wave":7590,"flux":0.38},{"wave":7595,"flux":1.24},{"wave":7600,"flux":0.90},{"wave":7604,"flux":0.86},{"wave":7608,"flux":0.72},{"wave":7613,"flux":0.52},{"wave":7617,"flux":0.47},{"wave":7621,"flux":0.69},{"wave":7625,"flux":0.89},{"wave":7629,"flux":0.56},{"wave":7635,"flux":0.51},{"wave":7642,"flux":0.45},{"wave":7647,"flux":0.41},{"wave":7652,"flux":0.45},{"wave":7655,"flux":0.41},{"wave":7658,"flux":0.46},{"wave":7661,"flux":0.34},{"wave":7668,"flux":0.31},{"wave":7675,"flux":0.35},{"wave":7681,"flux":0.36},{"wave":7688,"flux":0.34},{"wave":7693,"flux":0.36},{"wave":7697,"flux":0.31},{"wave":7704,"flux":0.31},{"wave":7710,"flux":0.85},{"wave":7716,"flux":0.36},{"wave":7720,"flux":0.48},{"wave":7725,"flux":0.34},{"wave":7730,"flux":0.33},{"wave":7735,"flux":0.32},{"wave":7740,"flux":0.34},{"wave":7745,"flux":0.33},{"wave":7750,"flux":0.34},{"wave":7754,"flux":0.60},{"wave":7758,"flux":0.31},{"wave":7762,"flux":0.45},{"wave":7766,"flux":0.36},{"wave":7769,"flux":0.85},{"wave":7772,"flux":0.34},{"wave":7776,"flux":0.50},{"wave":7779,"flux":0.34},{"wave":7785,"flux":0.82},{"wave":7790,"flux":0.31},{"wave":7795,"flux":0.31},{"wave":7800,"flux":0.36},{"wave":7804,"flux":0.56},{"wave":7808,"flux":0.34},{"wave":7813,"flux":0.45},{"wave":7817,"flux":0.92},{"wave":7822,"flux":0.34},{"wave":7826,"flux":0.32},{"wave":7831,"flux":0.33},{"wave":7836,"flux":0.53},{"wave":7841,"flux":0.34},{"wave":7844,"flux":0.33},{"wave":7849,"flux":0.94},{"wave":7854,"flux":0.64},{"wave":7857,"flux":0.52},{"wave":7862,"flux":0.38},{"wave":7866,"flux":0.70},{"wave":7871,"flux":0.38},{"wave":7877,"flux":0.57},{"wave":7882,"flux":0.36},{"wave":7886,"flux":0.65},{"wave":7891,"flux":0.34},{"wave":7896,"flux":0.32},{"wave":7901,"flux":0.34},{"wave":7906,"flux":0.58},{"wave":7909,"flux":1.13},{"wave":7913,"flux":0.34},{"wave":7918,"flux":0.70},{"wave":7922,"flux":0.34},{"wave":7926,"flux":0.58},{"wave":7931,"flux":0.34},{"wave":7935,"flux":0.33},{"wave":7940,"flux":0.36},{"wave":7944,"flux":0.55},{"wave":7948,"flux":0.34},{"wave":7953,"flux":0.33},{"wave":7956,"flux":0.55},{"wave":7960,"flux":0.98},{"wave":7964,"flux":0.34},{"wave":7969,"flux":0.34},{"wave":7974,"flux":0.64},{"wave":7980,"flux":0.34},{"wave":7984,"flux":0.38},{"wave":7989,"flux":1.01},{"wave":7993,"flux":0.34},{"wave":7997,"flux":0.32},{"wave":8002,"flux":0.33},{"wave":8006,"flux":0.36},{"wave":8010,"flux":0.55},{"wave":8014,"flux":0.48},{"wave":8017,"flux":0.34},{"wave":8023,"flux":0.32},{"wave":8030,"flux":0.31},{"wave":8036,"flux":0.32},{"wave":8042,"flux":0.34},{"wave":8046,"flux":0.47},{"wave":8050,"flux":0.33},{"wave":8054,"flux":0.34},{"wave":8058,"flux":0.61},{"wave":8062,"flux":0.34},{"wave":8066,"flux":0.32},{"wave":8072,"flux":0.32},{"wave":8079,"flux":0.33},{"wave":8084,"flux":0.36},{"wave":8089,"flux":0.38},{"wave":8093,"flux":0.34},{"wave":8098,"flux":0.46},{"wave":8102,"flux":0.33},{"wave":8111,"flux":0.31},{"wave":8121,"flux":0.31},{"wave":8128,"flux":0.33},{"wave":8132,"flux":0.37},{"wave":8136,"flux":0.33},{"wave":8141,"flux":0.38},{"wave":8145,"flux":0.33},{"wave":8151,"flux":0.32},{"wave":8157,"flux":0.32},{"wave":8164,"flux":0.31},{"wave":8173,"flux":0.32},{"wave":8180,"flux":0.33},{"wave":8186,"flux":0.34},{"wave":8193,"flux":0.33},{"wave":8203,"flux":0.32},{"wave":8212,"flux":0.31},{"wave":8222,"flux":0.32},{"wave":8232,"flux":0.32},{"wave":8241,"flux":0.31},{"wave":8247,"flux":0.32},{"wave":8255,"flux":0.31},{"wave":8261,"flux":0.34},{"wave":8267,"flux":0.45},{"wave":8271,"flux":0.58},{"wave":8274,"flux":0.78},{"wave":8278,"flux":0.66},{"wave":8281,"flux":0.97},{"wave":8286,"flux":0.52},{"wave":8289,"flux":1.03},{"wave":8294,"flux":0.58},{"wave":8298,"flux":0.38},{"wave":8302,"flux":0.43},{"wave":8306,"flux":0.57},{"wave":8310,"flux":0.36},{"wave":8314,"flux":0.34},{"wave":8319,"flux":0.32},{"wave":8324,"flux":0.31},{"wave":8329,"flux":0.33},{"wave":8333,"flux":0.43},{"wave":8337,"flux":2.00},{"wave":8340,"flux":2.00},{"wave":8343,"flux":0.60},{"wave":8346,"flux":0.34},{"wave":8351,"flux":0.31},{"wave":8355,"flux":0.52},{"wave":8358,"flux":0.56},{"wave":8362,"flux":0.34},{"wave":8366,"flux":0.33},{"wave":8370,"flux":0.43},{"wave":8372,"flux":0.52},{"wave":8376,"flux":0.71},{"wave":8380,"flux":0.36},{"wave":8384,"flux":0.31},{"wave":8388,"flux":0.34},{"wave":8392,"flux":1.28},{"wave":8396,"flux":0.38},{"wave":8400,"flux":0.31},{"wave":8405,"flux":0.52},{"wave":8409,"flux":0.80},{"wave":8413,"flux":0.36},{"wave":8417,"flux":0.31},
{"wave":8421,"flux":0.69},{"wave":8424,"flux":1.35},{"wave":8428,"flux":0.58},{"wave":8431,"flux":0.34},{"wave":8436,"flux":0.36},{"wave":8441,"flux":0.62},{"wave":8444,"flux":0.70},{"wave":8447,"flux":0.58},{"wave":8450,"flux":0.43},{"wave":8454,"flux":0.65},{"wave":8459,"flux":1.14},{"wave":8462,"flux":0.58},{"wave":8466,"flux":0.34},{"wave":8470,"flux":0.31},{"wave":8477,"flux":0.31},{"wave":8483,"flux":0.33},{"wave":8487,"flux":0.60},{"wave":8491,"flux":0.34},{"wave":8495,"flux":0.48},{"wave":8499,"flux":0.85},{"wave":8503,"flux":0.36},{"wave":8508,"flux":0.31},{"wave":8512,"flux":0.32},{"wave":8517,"flux":0.33},{"wave":8521,"flux":0.34},{"wave":8525,"flux":0.31},{"wave":8530,"flux":0.34},{"wave":8535,"flux":0.31},{"wave":8542,"flux":0.57},{"wave":8545,"flux":0.34},{"wave":8552,"flux":0.31},{"wave":8561,"flux":0.31},{"wave":8569,"flux":0.32},{"wave":8574,"flux":0.31},{"wave":8580,"flux":0.33},{"wave":8584,"flux":0.34},{"wave":8589,"flux":0.42},{"wave":8593,"flux":0.34},{"wave":8597,"flux":0.38},{"wave":8602,"flux":0.41},{"wave":8607,"flux":0.48},{"wave":8613,"flux":0.61},{"wave":8620,"flux":0.67},{"wave":8627,"flux":0.66},{"wave":8633,"flux":0.55},{"wave":8638,"flux":0.41},{"wave":8643,"flux":0.56},{"wave":8647,"flux":0.69},{"wave":8653,"flux":0.69},{"wave":8658,"flux":0.67},{"wave":8662,"flux":0.57},{"wave":8667,"flux":0.50},{"wave":8672,"flux":0.43},{"wave":8677,"flux":0.40},{"wave":8683,"flux":0.36},{"wave":8688,"flux":0.38},{"wave":8693,"flux":0.36},{"wave":8698,"flux":0.37},{"wave":8705,"flux":0.34},{"wave":8711,"flux":0.32},{"wave":8718,"flux":0.33},{"wave":8724,"flux":0.32},{"wave":8731,"flux":0.33},{"wave":8737,"flux":0.34},{"wave":8744,"flux":0.33},{"wave":8749,"flux":0.55},{"wave":8753,"flux":1.03},{"wave":8756,"flux":0.86},{"wave":8760,"flux":1.24},{"wave":8763,"flux":0.69},{"wave":8767,"flux":0.72},{"wave":8771,"flux":1.33},{"wave":8775,"flux":0.52},{"wave":8780,"flux":0.43},{"wave":8784,"flux":0.72},{"wave":8788,"flux":0.38},{"wave":8793,"flux":0.34},{"wave":8797,"flux":0.36},{"wave":8803,"flux":0.38},{"wave":8807,"flux":0.33},{"wave":8812,"flux":0.36},{"wave":8817,"flux":0.69},{"wave":8820,"flux":2.00},{"wave":8822,"flux":2.00},{"wave":8825,"flux":0.52},{"wave":8830,"flux":0.43},{"wave":8835,"flux":0.38},{"wave":8840,"flux":0.66},{"wave":8844,"flux":0.55},{"wave":8848,"flux":0.38},{"wave":8852,"flux":0.45},{"wave":8856,"flux":0.34},{"wave":8860,"flux":0.90},{"wave":8864,"flux":0.38},{"wave":8868,"flux":0.43},{"wave":8872,"flux":0.36},{"wave":8876,"flux":0.43},{"wave":8879,"flux":2.00},{"wave":8882,"flux":0.52},{"wave":8886,"flux":0.36},{"wave":8890,"flux":0.43},{"wave":8895,"flux":0.96},{"wave":8899,"flux":0.38},{"wave":8904,"flux":0.41},{"wave":8908,"flux":0.69},{"wave":8911,"flux":2.00},{"wave":8913,"flux":2.00},{"wave":8917,"flux":0.48},{"wave":8921,"flux":0.41},{"wave":8925,"flux":0.38},{"wave":8930,"flux":0.43},{"wave":8933,"flux":0.48},{"wave":8937,"flux":0.92},{"wave":8941,"flux":0.38},{"wave":8945,"flux":0.36},{"wave":8949,"flux":0.69},{"wave":8951,"flux":2.00},{"wave":8954,"flux":0.52},{"wave":8958,"flux":0.38},{"wave":8962,"flux":0.41},{"wave":8967,"flux":0.36},{"wave":8971,"flux":0.41},{"wave":8975,"flux":0.38},{"wave":8980,"flux":0.94},{"wave":8984,"flux":0.38},{"wave":8988,"flux":0.41},{"wave":8992,"flux":0.82},{"wave":8994,"flux":1.30},{"wave":8997,"flux":0.79},{"wave":9000,"flux":0.41},{"wave":9003,"flux":0.34},{"wave":9008,"flux":0.45},{"wave":9013,"flux":0.34},{"wave":9018,"flux":0.36},{"wave":9024,"flux":0.34},{"wave":9031,"flux":0.36},{"wave":9037,"flux":0.40},{"wave":9042,"flux":0.77},{"wave":9045,"flux":0.52},{"wave":9049,"flux":0.36},{"wave":9054,"flux":0.38},{"wave":9058,"flux":0.36},{"wave":9063,"flux":0.34},{"wave":9070,"flux":0.35},{"wave":9076,"flux":0.34},{"wave":9081,"flux":0.48},{"wave":9084,"flux":0.50},{"wave":9087,"flux":0.34},{"wave":9091,"flux":0.48},{"wave":9095,"flux":0.58},{"wave":9098,"flux":0.34},{"wave":9106,"flux":0.33},{"wave":9116,"flux":0.34},{"wave":9125,"flux":0.35},{"wave":9135,"flux":0.36},{"wave":9140,"flux":0.45},{"wave":9144,"flux":0.38},{"wave":9148,"flux":0.41},{"wave":9153,"flux":0.51},{"wave":9157,"flux":0.36},{"wave":9165,"flux":0.36},{"wave":9174,"flux":0.36},{"wave":9184,"flux":0.36},{"wave":9194,"flux":0.37},{"wave":9200,"flux":0.38},{"wave":9206,"flux":0.40},{"wave":9210,"flux":0.46},{"wave":9213,"flux":0.41},{"wave":9217,"flux":0.50},{"wave":9221,"flux":0.38},{"wave":9226,"flux":0.36},{"wave":9233,"flux":0.37},{"wave":9238,"flux":0.40},{"wave":9242,"flux":0.41},{"wave":9246,"flux":0.38},{"wave":9251,"flux":0.52},{"wave":9257,"flux":0.69},{"wave":9260,"flux":0.48},{"wave":9264,"flux":0.38},{"wave":9269,"flux":0.40},{"wave":9273,"flux":0.48},{"wave":9277,"flux":0.50},{"wave":9281,"flux":0.48},{"wave":9285,"flux":0.53},{"wave":9289,"flux":0.52},{"wave":9293,"flux":0.48},{"wave":9298,"flux":0.48}
    ]
  },
  "encoding": {
    "x": {
      "field": "wave", "type": "quantitative",
      "scale": {"domain": [4750, 9300], "nice": false, "zero": false},
      "axis": {
        "title": "Wavelength", "values": [5000, 6000, 7000, 8000, 9000], "format": "d",
        "grid": false, "labelFlush": false, "labelOverlap": false,
        "labelFont": "DejaVu Sans", "labelFontSize": 27, "labelColor": "black", "labelPadding": 14,
        "tickSize": 15, "tickWidth": 3.3, "tickColor": "black",
        "domainColor": "black", "domainWidth": 3.3,
        "titleFont": "DejaVu Sans", "titleFontSize": 32, "titleFontWeight": "normal", "titleColor": "black",
        "titleX": 1163, "titleY": 87, "titleAlign": "center", "titleBaseline": "alphabetic"
      }
    },
    "y": {
      "field": "flux", "type": "quantitative",
      "scale": {"domain": [-1.108, 1.48], "nice": false, "zero": false},
      "axis": {
        "title": "10⁻¹⁸ erg s⁻¹ cm⁻² Å⁻¹", "values": [-1, -0.5, 0, 0.5, 1], "format": ".1f",
        "grid": false, "labelFlush": false, "labelOverlap": false,
        "labelFont": "DejaVu Sans", "labelFontSize": 34, "labelColor": "black", "labelPadding": 16,
        "tickSize": 15, "tickWidth": 3.3, "tickColor": "black",
        "domainColor": "black", "domainWidth": 3.3,
        "titleFont": "DejaVu Sans", "titleFontSize": 49, "titleFontWeight": "normal", "titleColor": "black",
        "titleX": -147, "titleY": 346.5, "titleAngle": 270, "titleAlign": "center", "titleBaseline": "alphabetic"
      }
    }
  },
  "layer": [
    {"data": {"name": "zero"}, "mark": {"type": "line", "color": "#0000ff", "strokeWidth": 5, "clip": true}},
    {"data": {"name": "model"}, "mark": {"type": "line", "color": "#008000", "strokeWidth": 1.4, "strokeJoin": "round", "clip": true}},
    {"data": {"name": "flux"}, "mark": {"type": "line", "color": "#000000", "strokeWidth": 4.5, "strokeJoin": "round", "clip": true}}
  ]
}
